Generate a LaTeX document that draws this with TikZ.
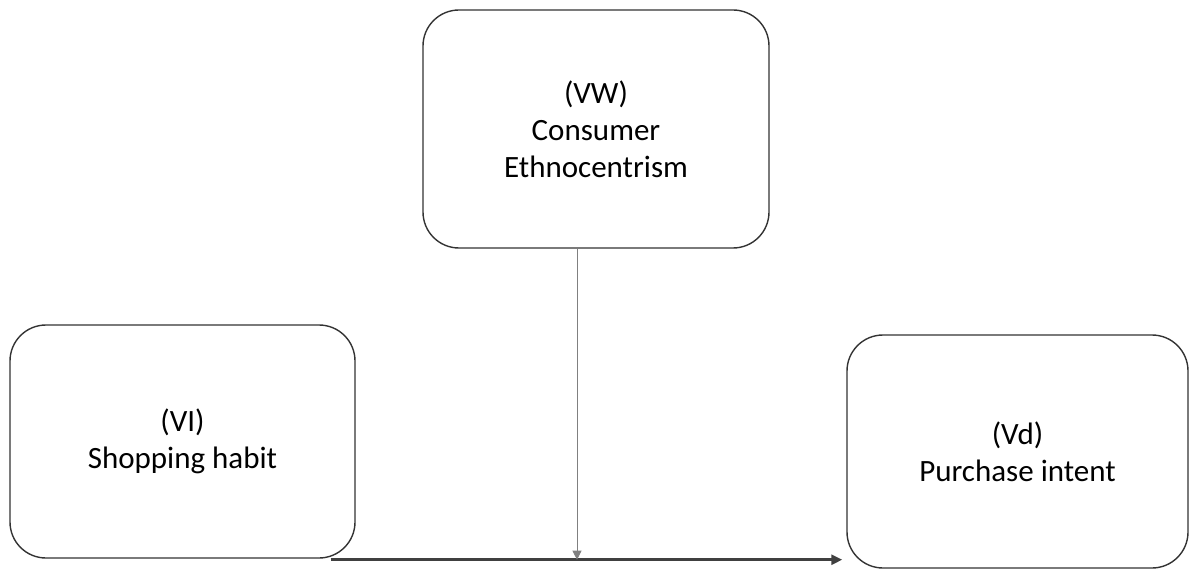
\documentclass[tikz,border=0pt]{standalone}
\usepackage{fontspec}
\setmainfont{Carlito}
\usetikzlibrary{arrows.meta,calc}
\begin{document}
\begin{tikzpicture}[x=1pt,y=1pt,
  varbox/.style={draw=black!80, line width=1.4pt, rounded corners=36pt, fill=white,
    inner sep=0pt, align=center, font=\fontsize{31}{37}\selectfont},
  mainarrow/.style={draw=black!75, line width=2.6pt, -{Triangle[length=11pt,width=10pt]}},
  modarrow/.style={draw=black!50, line width=0.9pt, -{Triangle[length=9pt,width=9pt]}}
]
\useasboundingbox (0,0) rectangle (1190,571);
\node[varbox, minimum width=346pt, minimum height=238pt] (top) at (596,442) {(VW)\\Consumer\\Ethnocentrism};
\node[varbox, minimum width=345pt, minimum height=233pt] (left) at (182.5,129.5) {(VI)\\Shopping habit};
\node[varbox, minimum width=341pt, minimum height=233pt] (right) at (1017.5,119.5) {(Vd)\\Purchase intent};
\coordinate (s) at ([xshift=-25pt,yshift=-1pt]left.south east);
\coordinate (m) at ([xshift=-19pt]top.south);
\draw[mainarrow, shorten >=4pt] (s) -- (s -| right.west);
\draw[modarrow] (m) -- (m |- s);
\end{tikzpicture}
\end{document}
